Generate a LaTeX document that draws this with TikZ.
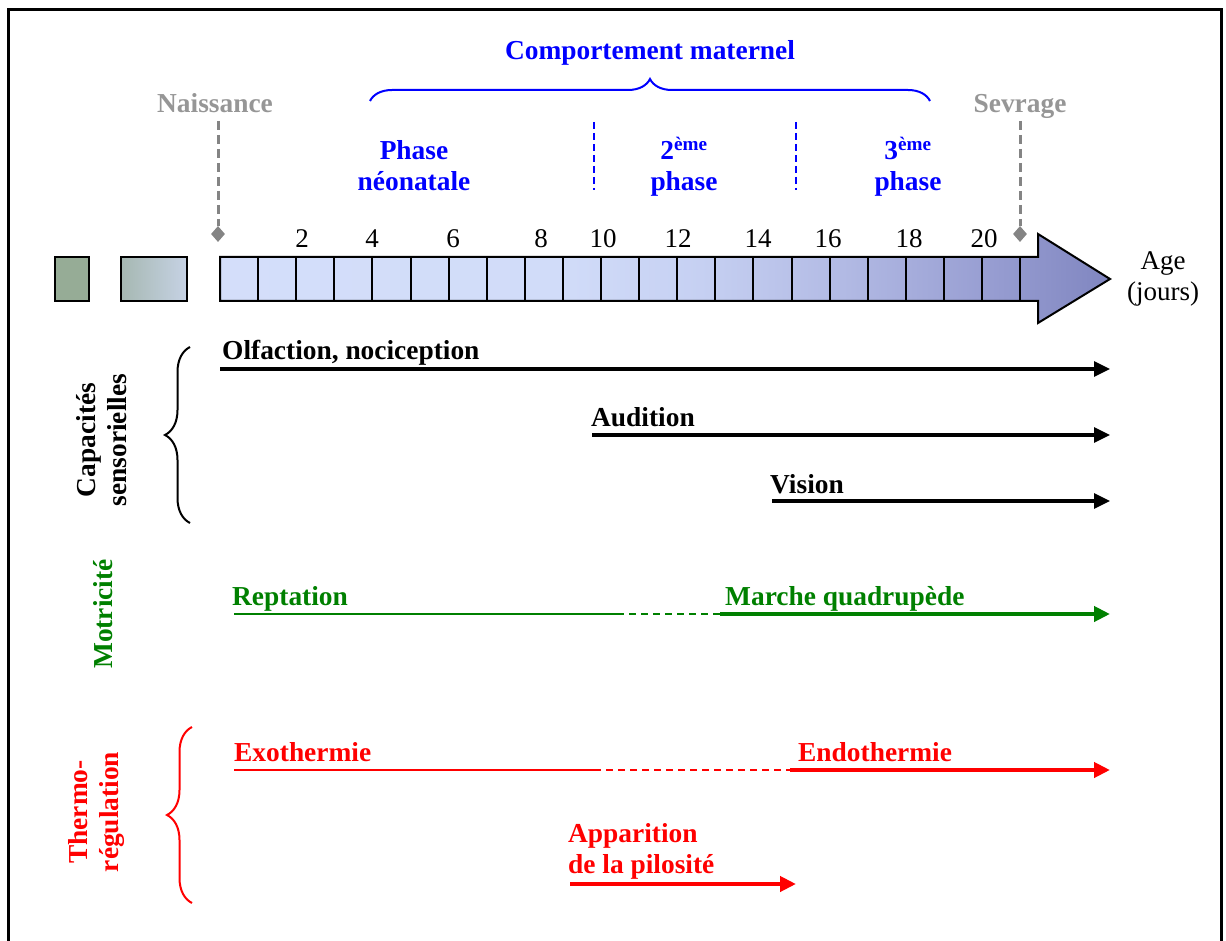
\documentclass[tikz,border=0pt]{standalone}
\usepackage{fontspec}
\setmainfont{Liberation Serif}
\usetikzlibrary{arrows.meta,positioning,shapes.geometric,decorations.pathreplacing,calc}
\definecolor{moss}{RGB}{150,172,150}
\definecolor{mossgrey}{RGB}{166,184,178}
\definecolor{paleslate}{RGB}{198,210,228}
\definecolor{motgreen}{RGB}{0,128,0}
\definecolor{markgrey}{RGB}{132,132,132}
\pgfdeclarehorizontalshading{agebar}{100bp}{rgb(0bp)=(0.831,0.871,0.980); rgb(25bp)=(0.831,0.871,0.980);
    rgb(44bp)=(0.820,0.863,0.976); rgb(52bp)=(0.776,0.816,0.949); rgb(60bp)=(0.698,0.729,0.894);
    rgb(68bp)=(0.596,0.620,0.824); rgb(75bp)=(0.502,0.525,0.753); rgb(100bp)=(0.502,0.525,0.753)}
\tikzset{
    devlabel/.style={font=\fontsize{27.4}{31}\selectfont\bfseries, inner sep=0pt, anchor=base west},
    devarrow/.style={-{Stealth[length=16pt, width=15pt, inset=0pt]}, line width=3.2pt},
    grpbrace/.style={decorate, decoration={brace, amplitude=#1}, line width=2pt}
}

\begin{document}
\begin{tikzpicture}[
    x=1pt, y=1pt,
    daynum/.style={font=\fontsize{27}{31}\selectfont, inner sep=0pt, anchor=base},
    phaselabel/.style={font=\fontsize{27.4}{31}\selectfont\bfseries, text=blue, align=center, inner sep=0pt},
    marklabel/.style={font=\fontsize{27.4}{31}\selectfont\bfseries, text=markgrey!85, inner sep=0pt, anchor=base},
    markline/.style={markgrey, line width=3pt, dash pattern=on 9pt off 5pt},
    markdot/.style={diamond, fill=markgrey, inner sep=0pt, minimum width=14pt, minimum height=16pt},
    phaseline/.style={blue, line width=2.6pt, dash pattern=on 7pt off 4pt},
    grouplabel/.style={font=\fontsize{27.4}{31}\selectfont\bfseries, rotate=90, align=center, inner sep=0pt}
]
\useasboundingbox (0,0) rectangle (1226,-941);
\draw[line width=3pt] (8,-941) -- (8,-10) -- (1221,-10) -- (1221,-941);

% maternal phases
\node[phaselabel] (maternal) at (650,-53) {Comportement maternel};
\draw[blue, grpbrace=22pt] (370,-101) -- (930,-101);
\node[phaselabel] (neo) at (414,-166) {Phase\\néonatale};
\node[phaselabel] (second) at (684,-167) {2\textsuperscript{ème}\\phase};
\node[phaselabel] (third) at (908,-167) {3\textsuperscript{ème}\\phase};
\coordinate (divAtop) at (594,-122);
\coordinate (divAbot) at (594,-190);
\coordinate (divBtop) at (796,-122);
\coordinate (divBbot) at (796,-190);
\draw[phaseline] (divAtop) -- (divAbot);
\draw[phaseline] (divBtop) -- (divBbot);

% birth and weaning
\node[marklabel] (birth) at (215,-113) {Naissance};
\node[marklabel] (wean) at (1020,-113) {Sevrage};
\node[markdot] (birthdot) at (218,-234) {};
\node[markdot] (weandot) at (1020,-234) {};
\coordinate (birthtop) at (218,-121);
\coordinate (weantop) at (1020,-121);
\draw[markline] (birthtop) -- (birthdot);
\draw[markline] (weantop) -- (weandot);

% age scale
\foreach \x/\d in {302/2, 372/4, 453/6, 541/8, 603/10, 678/12, 758/14, 828/16, 909/18, 984/20}
    \node[daynum] (day\d) at (\x,-248) {\d};
\draw[line width=2pt, fill=moss] (55,-257) rectangle (89,-301);
\draw[line width=2pt, left color=mossgrey, right color=paleslate] (121,-257) rectangle (187,-301);
\coordinate (agetip) at (1110,-279);
\draw[line width=2pt, shading=agebar]
    (220,-257) -- (1038,-257) -- (1038,-234) -- (agetip) -- (1038,-323) -- (1038,-301) -- (220,-301) -- cycle;
\foreach \i in {1,...,21}
    \draw[line width=2pt] ({220+38.1*\i},-257) -- ++(0,-44);
\node[daynum, align=center, right=17pt of agetip] (age) {Age\\(jours)};

% groups
\node[grouplabel] (sensory) at (102,-440) {Capacités\\sensorielles};
\draw[grpbrace=25pt] (190,-523) -- (190,-347);
\node[grouplabel, text=motgreen] (motor) at (103,-614) {Motricité};
\node[grouplabel, text=red] (thermo) at (97,-812) {Thermo-\\régulation};
\draw[red, grpbrace=25pt] (192,-903) -- (192,-727);

% sensory
\node[devlabel] (olf) at (222,-359) {Olfaction, nociception};
\node[devlabel] (hear) at (591,-426) {Audition};
\node[devlabel] (sight) at (770,-493) {Vision};
\coordinate (olfS) at (220,-369);
\coordinate (olfE) at (1110,-369);
\coordinate (hearS) at (592,-435);
\coordinate (hearE) at (1110,-435);
\coordinate (sightS) at (772,-501);
\coordinate (sightE) at (1110,-501);
\draw[devarrow] (olfS) -- (olfE);
\draw[devarrow] (hearS) -- (hearE);
\draw[devarrow] (sightS) -- (sightE);

% motor
\node[devlabel, text=motgreen] (crawl) at (232,-605) {Reptation};
\node[devlabel, text=motgreen] (walk) at (725,-605) {Marche quadrupède};
\coordinate (crawlS) at (234,-614);
\coordinate (crawlE) at (617,-614);
\coordinate (walkS) at (720,-614);
\coordinate (walkE) at (1110,-614);
\draw[motgreen, line width=2.2pt] (crawlS) -- (crawlE);
\draw[motgreen, line width=2.6pt, dash pattern=on 7pt off 5pt] (crawlE) -- (walkS);
\draw[motgreen, devarrow, line width=4pt] (walkS) -- (walkE);

% thermoregulation
\node[devlabel, text=red] (exo) at (234,-761) {Exothermie};
\node[devlabel, text=red] (endo) at (798,-761) {Endothermie};
\node[devlabel, text=red, align=left, anchor=north west] (hair) at (568,-823) {Apparition\\de la pilosité};
\coordinate (exoS) at (234,-770);
\coordinate (exoE) at (594,-770);
\coordinate (endoS) at (790,-770);
\coordinate (endoE) at (1110,-770);
\coordinate (hairS) at (570,-884);
\coordinate (hairE) at (796,-884);
\draw[red, line width=1.8pt] (exoS) -- (exoE);
\draw[red, line width=2.6pt, dash pattern=on 7pt off 5pt] (exoE) -- (endoS);
\draw[red, devarrow, line width=4pt] (endoS) -- (endoE);
\draw[red, devarrow, line width=4pt] (hairS) -- (hairE);
\end{tikzpicture}
\end{document}
